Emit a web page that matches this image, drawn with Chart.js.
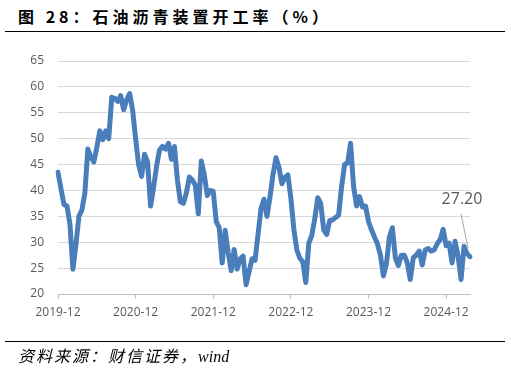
<!DOCTYPE html>
<html>
<head>
<meta charset="utf-8">
<script src="https://cdn.jsdelivr.net/npm/chart.js@4/dist/chart.umd.min.js"></script>
<style>
  body { margin: 0; background: #fff; }
  #wrap { position: relative; width: 511px; height: 374px; overflow: hidden; }
  #title {
    position: absolute; left: 18px; top: 4px;
    font-family: "Noto Sans CJK SC", sans-serif; font-weight: bold;
    font-size: 16px; letter-spacing: 4px; color: #000; white-space: nowrap;
  }
  .rule { position: absolute; left: 5px; width: 500px; height: 0; border-top: 1.5px solid #000; }
  #source {
    position: absolute; left: 18px; top: 343px;
    font-family: "Noto Sans CJK SC", sans-serif; font-style: italic;
    font-size: 16px; letter-spacing: 2px; color: #000; white-space: nowrap;
  }
  #source span { font-family: "Liberation Serif", serif; letter-spacing: 0; }
  canvas { position: absolute; left: 0; top: 0; }
</style>
</head>
<body>
<div id="wrap">
  <div id="title">图 28：石油沥青装置开工率（%）</div>
  <div class="rule" style="top:31px"></div>
  <canvas id="chart" width="511" height="374"></canvas>
  <div class="rule" style="top:341px"></div>
  <div id="source">资料来源：财信证券，<span>wind</span></div>
</div>
<script>
// axis labels shown under the x axis, one per year
var tickLabels = ["2019-12", "2020-12", "2021-12", "2022-12", "2023-12", "2024-12"];
var tickEvery = 26; // points between two year labels (two-week steps)

// asphalt plant operating rate, %, every two weeks
var rate = [
  43.5, 40.3, 37.3, 37.0, 33.5, 24.8, 29.5, 35.0, 36.2, 39.5,
  48.0, 46.5, 45.5, 48.3, 51.5, 49.8, 51.5, 50.0, 58.0, 57.8,
  57.2, 58.3, 55.6, 57.5, 58.7, 55.5, 50.0, 45.0, 42.7, 47.0,
  45.5, 37.0, 40.5, 44.6, 47.8, 48.5, 48.0, 49.1, 46.0, 48.5,
  42.0, 37.8, 37.5, 39.5, 42.6, 42.0, 41.0, 35.5, 45.7, 43.0,
  39.0, 40.0, 39.8, 34.0, 32.8, 26.0, 32.3, 28.0, 24.5, 28.6,
  24.8, 26.8, 27.3, 21.8, 24.3, 26.8, 26.5, 31.5, 36.5, 38.3,
  35.0, 38.7, 43.0, 46.3, 44.5, 41.3, 42.5, 43.0, 38.5, 32.5,
  28.5, 26.9, 26.2, 22.2, 29.8, 31.3, 34.5, 38.6, 37.5, 32.4,
  31.5, 34.2, 34.3, 34.8, 35.2, 40.8, 45.0, 45.3, 49.1, 40.8,
  37.0, 38.8, 36.8, 37.0, 34.0, 32.4, 31.0, 29.7, 27.5, 23.5,
  25.8, 31.0, 32.8, 27.0, 25.5, 27.5, 27.5, 26.0, 22.8, 27.0,
  27.5, 28.3, 25.6, 28.5, 28.8, 28.3, 28.5, 29.7, 30.5, 32.5,
  29.3, 29.8, 26.0, 30.2, 27.3, 22.8, 29.2, 27.8, 27.2
];

// category labels: dates every two weeks from early Dec 2019
var dates = [];
var start = new Date(2019, 11, 6);
for (var i = 0; i < rate.length; i++) {
  var d = new Date(start.getTime() + i * 14 * 86400000);
  dates.push(d.getFullYear() + "-" + String(d.getMonth() + 1).padStart(2, "0") + "-" + String(d.getDate()).padStart(2, "0"));
}

var grey = "#595959";

// callout with the latest value and a thin leader line
var lastLabel = {
  id: "lastLabel",
  afterDatasetsDraw: function (chart) {
    var meta = chart.getDatasetMeta(0);
    var pt = meta.data[meta.data.length - 1];
    var ctx = chart.ctx;
    ctx.save();
    ctx.strokeStyle = "#a6a6a6";
    ctx.lineWidth = 1;
    ctx.beginPath();
    ctx.moveTo(pt.x - 9, pt.y - 43);
    ctx.lineTo(pt.x - 2, pt.y - 9);
    ctx.stroke();
    ctx.fillStyle = grey;
    ctx.font = "16px 'Open Sans'";
    ctx.textAlign = "center";
    ctx.textBaseline = "middle";
    ctx.fillText(rate[rate.length - 1].toFixed(2), pt.x - 8, pt.y - 57);
    ctx.restore();
  }
};

var ctx = document.getElementById("chart").getContext("2d");
new Chart(ctx, {
  type: "line",
  data: {
    labels: dates,
    datasets: [
      {
        data: rate,
        borderColor: "#4a7ebb",
        borderWidth: 5,
        borderCapStyle: "round",
        borderJoinStyle: "round",
        pointRadius: 0,
        tension: 0,
        fill: false,
      },
    ],
  },
  options: {
    responsive: false,
    animation: false,
    layout: { padding: { left: 0, right: 41, top: 61, bottom: 0 } },
    plugins: { legend: { display: false }, tooltip: { enabled: false } },
    scales: {
      x: {
        offset: false,
        afterFit: function (scale) { scale.height = 80; },
        afterBuildTicks: function (scale) {
          scale.ticks = scale.ticks.filter(function (t) { return t.value % tickEvery === 0; });
        },
        border: { display: true, color: "#bfbfbf", width: 1 },
        grid: { drawOnChartArea: false, color: "#bfbfbf", tickLength: 5 },
        ticks: {
          autoSkip: false,
          maxRotation: 0,
          padding: 6,
          color: grey,
          font: { family: "Open Sans", size: 12 },
          callback: function (value) { return tickLabels[value / tickEvery]; },
        },
      },
      y: {
        min: 20,
        max: 65,
        afterFit: function (scale) { scale.width = 58; },
        border: { display: false },
        grid: { color: "#d9d9d9", lineWidth: 1, drawTicks: false },
        ticks: {
          stepSize: 5,
          padding: 14,
          color: grey,
          font: { family: "Open Sans", size: 12 },
        },
      },
    },
  },
  plugins: [lastLabel],
});
</script>
</body>
</html>
